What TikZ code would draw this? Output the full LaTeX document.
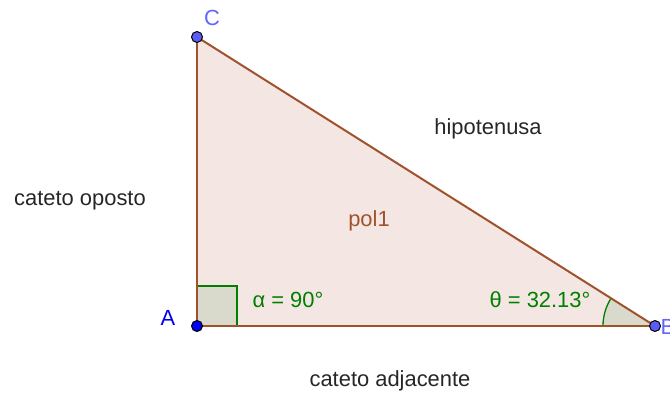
\documentclass[tikz,border=0pt]{standalone}
\usepackage{fontspec}
\setmainfont{Liberation Sans}
\usetikzlibrary{positioning, angles}
\definecolor{edge}{HTML}{A0522D}
\definecolor{poly}{HTML}{F4E7E3}
\definecolor{angcol}{HTML}{007F00}
\definecolor{angfill}{HTML}{D9D9CC}
\definecolor{ptblue}{HTML}{5B5BF5}
\definecolor{ptdark}{HTML}{0000F0}
\definecolor{ptlabel}{HTML}{6464FF}

\begin{document}
\begin{tikzpicture}[
    x=1bp, y=1bp,
    pt/.style={circle, draw=black, line width=1pt, fill=ptblue, minimum size=11bp, inner sep=0pt},
    side/.style={draw=edge, line width=2bp},
    lbl/.style={font=\fontsize{22}{24}\selectfont, text=black!85},
    ptlbl/.style={font=\fontsize{22}{24}\selectfont, text=ptlabel},
    anglbl/.style={font=\fontsize{22}{24}\selectfont, text=angcol},
]
\useasboundingbox (0,0) rectangle (670,-393);

\coordinate (A) at (197,-326);
\coordinate (B) at (655,-326);
\coordinate (C) at (197,-37);

% polygon
\fill[poly] (A) -- (B) -- (C) -- cycle;

% angles
\filldraw[fill=angfill, draw=angcol, line width=1.3bp] (A) rectangle ++(40,40);
\pic[draw=angcol, fill=angfill, line width=1.3bp, angle radius=52bp] {angle = C--B--A};

% sides
\draw[side] (A) -- (B);
\draw[side] (B) -- (C);
\draw[side] (C) -- (A);

% points
\node[pt, fill=ptdark] (ptA) at (A) {};
\node[pt] (ptB) at (B) {};
\node[pt] (ptC) at (C) {};

\node[ptlbl] (labC) at (212,-18) {C};
\node[ptlbl, text=ptdark] (labA) at (168,-318) {A};
\node[ptlbl, anchor=west] (labB) at (657,-327) {B};

\node[lbl] (hyp) at (488,-129) {hipotenusa};
\node[lbl] (opp) at (80,-201) {cateto oposto};
\node[lbl] (adj) at (390,-381) {cateto adjacente};
\node[lbl, text=edge] (pol) at (369,-221) {pol1};

\node[anglbl] (alpha) at (288,-300) {α = 90°};
\node[anglbl] (theta) at (540,-300) {θ = 32.13°};

\end{tikzpicture}
\end{document}
